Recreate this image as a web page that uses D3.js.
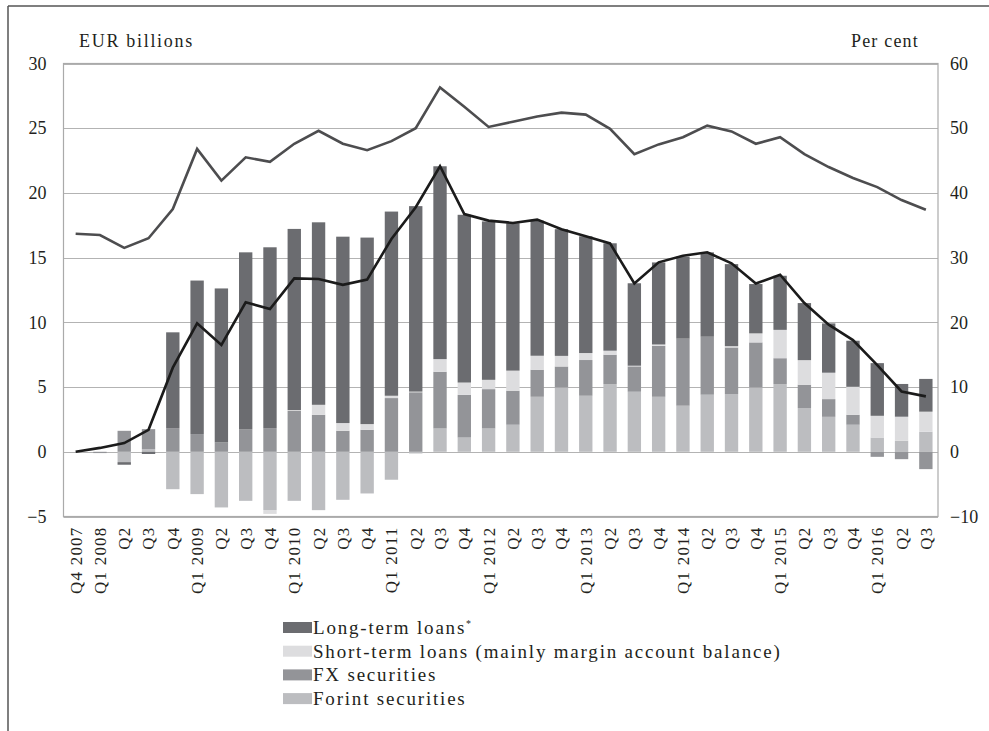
<!DOCTYPE html>
<html>
<head>
<meta charset="utf-8">
<script src="https://cdn.jsdelivr.net/npm/d3@7"></script>
<style>
  body { margin: 0; background: #fff; }
  svg text { font-family: "Liberation Serif", "DejaVu Serif", serif; fill: #231f20; }
</style>
</head>
<body>
<svg id="chart" width="989" height="731"></svg>
<script>
// quarters on the x axis
var quarters = ["Q4 2007", "Q1 2008", "Q2", "Q3", "Q4", "Q1 2009", "Q2", "Q3", "Q4",
    "Q1 2010", "Q2", "Q3", "Q4", "Q1 2011", "Q2", "Q3", "Q4", "Q1 2012", "Q2", "Q3", "Q4",
    "Q1 2013", "Q2", "Q3", "Q4", "Q1 2014", "Q2", "Q3", "Q4", "Q1 2015", "Q2", "Q3", "Q4",
    "Q1 2016", "Q2", "Q3"];

// EUR billions
var longTerm  = [0, 0, -0.2, -0.17, 7.4, 11.86, 11.9, 13.66, 13.97, 14.0, 14.1, 14.4, 14.41, 14.23, 14.33, 14.9,
    12.96, 12.24, 11.39, 10.44, 9.79, 9.02, 8.3, 6.37, 6.34, 6.34, 6.52, 6.34, 3.81, 4.18, 4.41, 3.81, 3.56, 4.07, 2.53, 2.53];
var shortTerm = [0, 0, 0, 0, 0, 0, 0, 0, -0.3, 0.05, 0.77, 0.6, 0.44, 0.18, 0.05, 0.98,
    0.95, 0.72, 1.55, 1.08, 0.82, 0.54, 0.31, 0.05, 0.1, 0, 0, 0.1, 0.7, 2.19, 1.9, 2.04, 2.16, 1.68, 1.86, 1.55];
var fxSec     = [0, -0.1, 1.62, 1.55, 1.83, 1.37, 0.72, 1.75, 1.83, 3.17, 2.86, 1.62, 1.7, 4.15, 4.6, 4.38,
    3.3, 3.04, 2.63, 2.09, 1.62, 2.76, 2.27, 1.96, 3.94, 5.18, 4.48, 3.6, 3.48, 2.0, 1.8, 1.37, 0.77, -0.39, -0.57, -1.34];
var forintSec = [0, 0, -0.8, 0.2, -2.89, -3.27, -4.3, -3.79, -4.5, -3.79, -4.51, -3.71, -3.22, -2.16, -0.13, 1.8,
    1.1, 1.8, 2.09, 4.25, 4.97, 4.33, 5.23, 4.64, 4.25, 3.56, 4.41, 4.46, 4.97, 5.23, 3.38, 2.7, 2.09, 1.1, 0.85, 1.55];

// black line, EUR billions (left axis)
var netTotal = [0, 0.3, 0.67, 1.7, 6.5, 9.92, 8.25, 11.55, 11.03, 13.4, 13.35, 12.9, 13.3, 16.44, 18.9, 22.06,
    18.37, 17.86, 17.68, 17.94, 17.2, 16.65, 16.1, 13.0, 14.64, 15.15, 15.41, 14.56, 13.0, 13.68, 11.49, 9.82, 8.63, 6.7, 4.66, 4.28];
// grey line, per cent (right axis)
var percentLine = [33.7, 33.5, 31.5, 33.0, 37.5, 46.8, 41.9, 45.5, 44.8, 47.6, 49.6, 47.6, 46.6, 48.0, 50.0, 56.3,
    53.3, 50.2, 51.0, 51.8, 52.4, 52.1, 49.9, 46.0, 47.5, 48.6, 50.4, 49.5, 47.6, 48.6, 46.0, 44.0, 42.3, 40.9, 38.9, 37.4];

var leftTicks = [-5, 0, 5, 10, 15, 20, 25, 30];
var rightTicks = [-10, 0, 10, 20, 30, 40, 50, 60];

var seriesNames = ["Long-term loans", "Short-term loans (mainly margin account balance)", "FX securities", "Forint securities"];
var seriesColors = ["#6b6c70", "#dddddf", "#939498", "#bcbdc0"];

var svg = d3.select("#chart");
var plotL = 63.5, plotR = 938, plotT = 63.5, plotB = 516.5;

var x = d3.scaleBand()
    .domain(d3.range(quarters.length))
    .range([plotL, plotR])
    .paddingInner(0.45)
    .paddingOuter(0.225);

var y = d3.scaleLinear().domain([-5, 30]).range([plotB, plotT]);
var y2 = d3.scaleLinear().domain([-10, 60]).range([plotB, plotT]);

// outer frame (top and left edges)
svg.append("line").attr("x1", 8).attr("x2", 989).attr("y1", 6).attr("y2", 6)
    .attr("stroke", "#555").attr("stroke-width", 1.5);
svg.append("line").attr("x1", 8).attr("x2", 8).attr("y1", 6).attr("y2", 731)
    .attr("stroke", "#555").attr("stroke-width", 1.5);

// gridlines
svg.append("g").selectAll("line")
    .data(leftTicks)
    .join("line")
    .attr("x1", plotL).attr("x2", plotR)
    .attr("y1", function(d) { return Math.round(y(d)) + 0.5; })
    .attr("y2", function(d) { return Math.round(y(d)) + 0.5; })
    .attr("stroke", "#b3b3b3")
    .attr("stroke-width", 1.2);

// stacked bars
var table = quarters.map(function(q, i) {
    return { i: i, lt: longTerm[i], st: shortTerm[i], fx: fxSec[i], huf: forintSec[i] };
});
var keys = ["huf", "fx", "st", "lt"];
var colorOf = { lt: seriesColors[0], st: seriesColors[1], fx: seriesColors[2], huf: seriesColors[3] };
var stacked = d3.stack().keys(keys).offset(d3.stackOffsetDiverging)(table);

svg.append("g").selectAll("g")
    .data(stacked)
    .join("g")
    .attr("fill", function(s) { return colorOf[s.key]; })
    .selectAll("rect")
    .data(function(s) { return s; })
    .join("rect")
    .attr("x", function(d) { return x(d.data.i); })
    .attr("width", x.bandwidth())
    .attr("y", function(d) { return y(Math.max(d[0], d[1])); })
    .attr("height", function(d) { return Math.abs(y(d[0]) - y(d[1])); });

// plot frame
svg.append("rect")
    .attr("x", plotL).attr("y", plotT)
    .attr("width", plotR - plotL).attr("height", plotB - plotT)
    .attr("fill", "none").attr("stroke", "#aaa").attr("stroke-width", 1.2);

// lines
var cx = function(d, i) { return x(i) + x.bandwidth() / 2; };
svg.append("path")
    .datum(percentLine)
    .attr("fill", "none").attr("stroke", "#4d4d4f").attr("stroke-width", 2.6)
    .attr("d", d3.line().x(cx).y(function(d) { return y2(d); }));
svg.append("path")
    .datum(netTotal)
    .attr("fill", "none").attr("stroke", "#1b1b1b").attr("stroke-width", 2.6)
    .attr("d", d3.line().x(cx).y(function(d) { return y(d); }));

// axes
var leftAxis = svg.append("g")
    .attr("transform", "translate(" + plotL + ",0)")
    .call(d3.axisLeft(y).tickValues(leftTicks).tickSize(0).tickPadding(17));
var rightAxis = svg.append("g")
    .attr("transform", "translate(" + plotR + ",0)")
    .call(d3.axisRight(y2).tickValues(rightTicks).tickSize(0).tickPadding(12));
[leftAxis, rightAxis].forEach(function(a) {
    a.select(".domain").remove();
    a.selectAll("text").attr("font-size", 18).attr("font-family", "Liberation Serif");
});

var xAxis = svg.append("g")
    .attr("transform", "translate(0," + plotB + ")")
    .call(d3.axisBottom(x).tickSize(0).tickFormat(function(i) { return quarters[i]; }));
xAxis.select(".domain").remove();
xAxis.selectAll("text")
    .attr("font-size", 17)
    .attr("font-family", "Liberation Serif")
    .attr("letter-spacing", 1.2)
    .attr("text-anchor", "end")
    .attr("transform", "rotate(-90)")
    .attr("x", -10)
    .attr("y", 0)
    .attr("dy", "0.35em");

// axis titles
svg.append("text").attr("x", 79).attr("y", 47).attr("font-size", 18)
    .attr("letter-spacing", 1.7).text("EUR billions");
svg.append("text").attr("x", 919).attr("y", 47).attr("font-size", 18)
    .attr("letter-spacing", 1.2).attr("text-anchor", "end").text("Per cent");

// legend
var legend = svg.append("g").attr("transform", "translate(283,622)");
var rows = legend.selectAll("g")
    .data(seriesNames)
    .join("g")
    .attr("transform", function(d, i) { return "translate(0," + i * 23.7 + ")"; });
rows.append("rect")
    .attr("width", 29).attr("height", 11)
    .attr("fill", function(d, i) { return seriesColors[i]; });
var labels = rows.append("text")
    .attr("x", 30).attr("y", 12).attr("font-size", 19)
    .attr("letter-spacing", 1.8)
    .text(function(d) { return d; });
labels.filter(function(d, i) { return i === 0; })
    .append("tspan").attr("dy", -7).attr("font-size", 10).text("*");
</script>
</body>
</html>
